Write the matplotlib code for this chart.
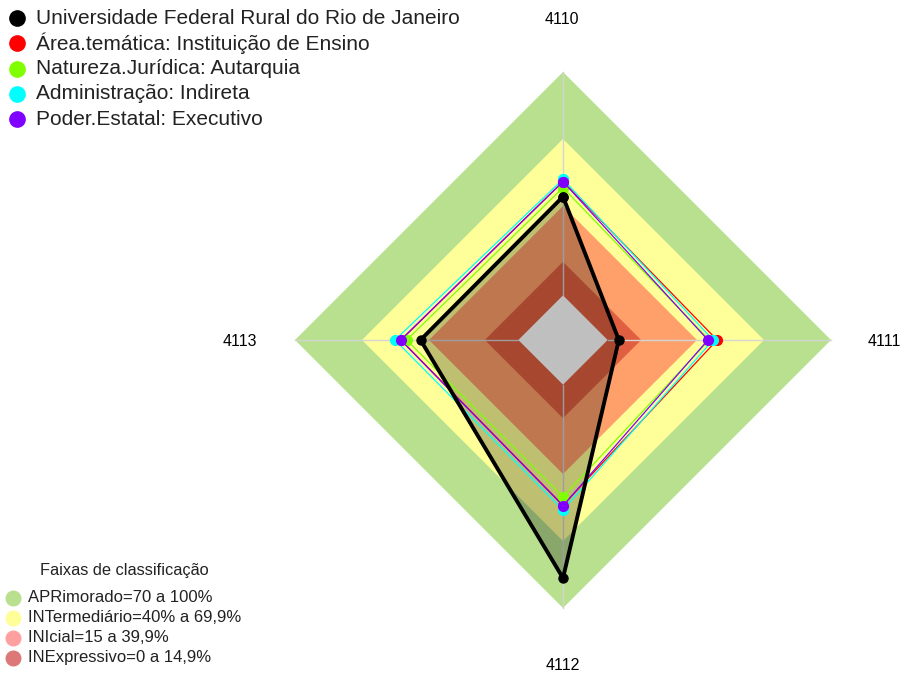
import numpy as np
import matplotlib
matplotlib.use("Agg")
import matplotlib.pyplot as plt

plt.rcParams['font.family'] = ['Liberation Sans', 'DejaVu Sans']

# dados
eixos = ['4110', '4111', '4112', '4113']
ufrrj = [44.2, 5.0, 86.6, 43.8]
area_tematica = [51.0, 49.0, 54.0, 52.5]
natureza = [48.2, 45.5, 50.2, 50.0]
administracao = [52.0, 47.2, 56.1, 55.2]
poder = [50.9, 44.9, 54.2, 52.7]

nomes = ['Universidade Federal Rural do Rio de Janeiro',
         'Área.temática: Instituição de Ensino',
         'Natureza.Jurídica: Autarquia',
         'Administração: Indireta',
         'Poder.Estatal: Executivo']
cores = ['black', '#ff0000', '#80ff00', '#00ffff', '#8000ff']

faixas_lim = [100, 70, 40, 15, 0]
faixas_cor = ['#b8e08e', '#ffff99', '#ffa06b', '#e05f41', 'white']
faixas_nome = ['APRimorado=70 a 100%', 'INTermediário=40% a 69,9%',
               'INIcial=15 a 39,9%', 'INExpressivo=0 a 14,9%']
faixas_leg_cor = ['#b8e08e', '#ffff99', '#ffa0a0', '#dc7878']

vmin = -20  # centro do radar
ang = np.pi / 2 - np.arange(len(eixos)) * np.pi / 2  # topo, direita, baixo, esquerda


def xy(vals):
    r = np.array(vals, dtype=float) - vmin
    x = r * np.cos(ang)
    y = r * np.sin(ang)
    return np.append(x, x[0]), np.append(y, y[0])


fig = plt.figure(figsize=(9.04, 6.75), dpi=100)
ax = fig.add_axes([0, 0, 1, 1])
esc = 268 / 120.0  # px por unidade
cx, cy = 563, 340
ax.set_xlim(-cx / esc, (904 - cx) / esc)
ax.set_ylim(-(675 - cy) / esc, cy / esc)
ax.set_aspect('equal')
ax.axis('off')

# faixas de classificacao
for lim, c in zip(faixas_lim, faixas_cor):
    x, y = xy([lim] * 4)
    ax.fill(x, y, color=c, lw=0, zorder=1)

# eixos
for a in ang:
    ax.plot([(0 - vmin) * np.cos(a), (100 - vmin) * np.cos(a)],
            [(0 - vmin) * np.sin(a), (100 - vmin) * np.sin(a)],
            color='#d4d4d4', lw=1, zorder=2)

# rotulos dos eixos
ax.text(-1 / esc, (cy - 20) / esc, eixos[0], ha='center', va='center', fontsize=11.5)
ax.text((884 - cx) / esc, -2 / esc, eixos[1], ha='center', va='center', fontsize=11.5)
ax.text(0, -(665 - cy) / esc, eixos[2], ha='center', va='center', fontsize=11.5)
ax.text((240 - cx) / esc, -2 / esc, eixos[3], ha='center', va='center', fontsize=11.5)

# series
x, y = xy(ufrrj)
ax.fill(x, y, color='black', alpha=0.25, lw=0, zorder=3)
for vals, c in zip([area_tematica, natureza, administracao, poder], cores[1:]):
    x, y = xy(vals)
    ax.plot(x, y, color=c, lw=0.9, marker='o', ms=7, mec=c, zorder=4)
x, y = xy(ufrrj)
ax.plot(x, y, color='black', lw=2.8, marker='o', ms=6.5, zorder=5)

# legendas (coordenadas em pixels)
lg = fig.add_axes([0, 0, 1, 1])
lg.set_xlim(0, 904)
lg.set_ylim(675, 0)
lg.axis('off')
lg.patch.set_alpha(0)

for i, (n, c) in enumerate(zip(nomes, cores)):
    yy = 18 + i * 25.3
    lg.plot(17.5, yy, 'o', color=c, ms=11)
    lg.text(36, yy, n, va='center', ha='left', fontsize=15, color='#222222')

lg.text(124, 571, 'Faixas de classificação', ha='center', va='center', fontsize=11.8,
        color='#222222')
for i, (n, c) in enumerate(zip(faixas_nome, faixas_leg_cor)):
    yy = 597.5 + i * 20
    lg.plot(13.5, yy, 'o', color=c, ms=10.5)
    lg.text(28, yy, n, va='center', ha='left', fontsize=12, color='#222222')

fig.savefig('out.png', dpi=100)
